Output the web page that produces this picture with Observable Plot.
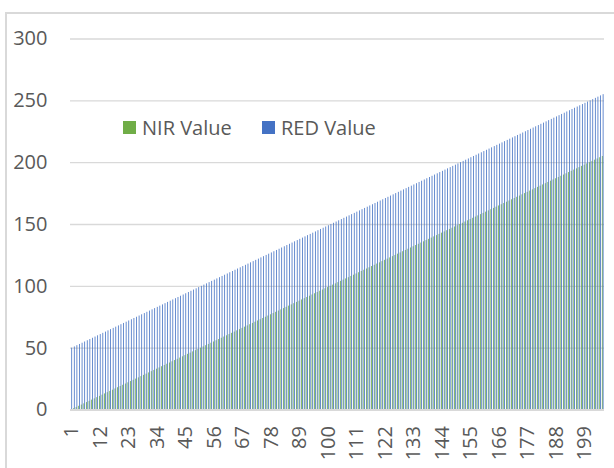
<!DOCTYPE html>
<html>
<head>
<meta charset="utf-8">
<script src="https://cdn.jsdelivr.net/npm/d3@7"></script>
<script src="https://cdn.jsdelivr.net/npm/@observablehq/plot@0.6"></script>
<style>
  html, body { margin: 0; padding: 0; background: #fff; overflow: hidden; }
  #wrap { position: relative; width: 614px; height: 468px; overflow: hidden; font-family: "Open Sans", sans-serif; }
  #frame { position: absolute; left: 5px; top: 12px; width: 700px; height: 600px; border: 2px solid #d9d9d9; box-sizing: border-box; }
  #chart { position: absolute; left: 0; top: 0; }
  .sw { position: absolute; width: 13px; height: 13px; }
  .lt { position: absolute; font-size: 20px; line-height: 27px; color: #595959; white-space: nowrap; }
</style>
</head>
<body>
<div id="wrap">
  <div id="frame"></div>
  <div id="chart"></div>
  <div class="sw" style="left:123px;top:121px;background:#70AD47"></div>
  <div class="lt" style="left:142px;top:114px">NIR Value</div>
  <div class="sw" style="left:262px;top:121px;background:#4472C4"></div>
  <div class="lt" style="left:281px;top:114px">RED Value</div>
</div>
<script>
const categories = [1,2,3,4,5,6,7,8,9,10,11,12,13,14,15,16,17,18,19,20,21,22,23,24,25,26,27,28,29,30,31,32,33,34,35,36,37,38,39,40,41,42,43,44,45,46,47,48,49,50,51,52,53,54,55,56,57,58,59,60,61,62,63,64,65,66,67,68,69,70,71,72,73,74,75,76,77,78,79,80,81,82,83,84,85,86,87,88,89,90,91,92,93,94,95,96,97,98,99,100,101,102,103,104,105,106,107,108,109,110,111,112,113,114,115,116,117,118,119,120,121,122,123,124,125,126,127,128,129,130,131,132,133,134,135,136,137,138,139,140,141,142,143,144,145,146,147,148,149,150,151,152,153,154,155,156,157,158,159,160,161,162,163,164,165,166,167,168,169,170,171,172,173,174,175,176,177,178,179,180,181,182,183,184,185,186,187,188,189,190,191,192,193,194,195,196,197,198,199,200,201,202,203,204,205,206];
const nirValues = [0,1,2,3,4,5,6,7,8,9,10,11,12,13,14,15,16,17,18,19,20,21,22,23,24,25,26,27,28,29,30,31,32,33,34,35,36,37,38,39,40,41,42,43,44,45,46,47,48,49,50,51,52,53,54,55,56,57,58,59,60,61,62,63,64,65,66,67,68,69,70,71,72,73,74,75,76,77,78,79,80,81,82,83,84,85,86,87,88,89,90,91,92,93,94,95,96,97,98,99,100,101,102,103,104,105,106,107,108,109,110,111,112,113,114,115,116,117,118,119,120,121,122,123,124,125,126,127,128,129,130,131,132,133,134,135,136,137,138,139,140,141,142,143,144,145,146,147,148,149,150,151,152,153,154,155,156,157,158,159,160,161,162,163,164,165,166,167,168,169,170,171,172,173,174,175,176,177,178,179,180,181,182,183,184,185,186,187,188,189,190,191,192,193,194,195,196,197,198,199,200,201,202,203,204,205];
const redValues = [50,51,52,53,54,55,56,57,58,59,60,61,62,63,64,65,66,67,68,69,70,71,72,73,74,75,76,77,78,79,80,81,82,83,84,85,86,87,88,89,90,91,92,93,94,95,96,97,98,99,100,101,102,103,104,105,106,107,108,109,110,111,112,113,114,115,116,117,118,119,120,121,122,123,124,125,126,127,128,129,130,131,132,133,134,135,136,137,138,139,140,141,142,143,144,145,146,147,148,149,150,151,152,153,154,155,156,157,158,159,160,161,162,163,164,165,166,167,168,169,170,171,172,173,174,175,176,177,178,179,180,181,182,183,184,185,186,187,188,189,190,191,192,193,194,195,196,197,198,199,200,201,202,203,204,205,206,207,208,209,210,211,212,213,214,215,216,217,218,219,220,221,222,223,224,225,226,227,228,229,230,231,232,233,234,235,236,237,238,239,240,241,242,243,244,245,246,247,248,249,250,251,252,253,254,255];
const xTickLabels = [1,12,23,34,45,56,67,78,89,100,111,122,133,144,155,166,177,188,199];
const yTickLabels = [0,50,100,150,200,250,300];

const nirRows = categories.map((c, i) => ({cat: c, value: nirValues[i]}));
const redRows = categories.map((c, i) => ({cat: c, value: redValues[i]}));

const textColor = "#595959";
const chart = Plot.plot({
  width: 614,
  height: 468,
  marginLeft: 70,
  marginRight: 10,
  marginTop: 38.5,
  marginBottom: 58.5,
  style: {fontFamily: "Open Sans, sans-serif", background: "transparent"},
  x: {type: "band", domain: categories, padding: 0},
  y: {domain: [0, 300]},
  marks: [
    Plot.gridY(yTickLabels, {stroke: "#d9d9d9", strokeOpacity: 1, strokeWidth: 1.3}),
    Plot.barY(nirRows, {x: "cat", y: "value", fill: "#70AD47", insetLeft: 0.5, insetRight: 1.29}),
    Plot.barY(redRows, {x: "cat", y: "value", fill: "#4472C4", insetLeft: 1.3, insetRight: 0.49}),
    Plot.ruleY([0], {stroke: "#d9d9d9", strokeWidth: 2}),
    Plot.axisY(yTickLabels, {tickSize: 0, tickPadding: 23, fontSize: 20, fill: textColor, label: null}),
    Plot.axisX(xTickLabels, {tickSize: 0, tickPadding: 16, tickRotate: -90, fontSize: 20, fill: textColor, label: null})
  ]
});
document.getElementById("chart").appendChild(chart);
</script>
</body>
</html>
